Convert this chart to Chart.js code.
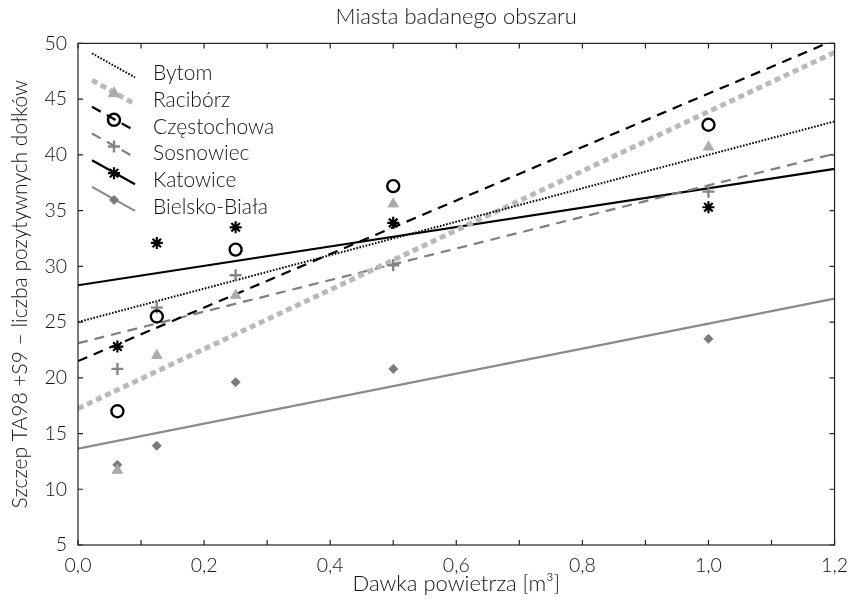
<!DOCTYPE html>
<html>
<head>
<meta charset="utf-8">
<script src="https://cdn.jsdelivr.net/npm/chart.js@4/dist/chart.umd.min.js"></script>
<style>
html,body{margin:0;padding:0;background:#fff;}
#wrap{width:857px;height:613px;}
</style>
</head>
<body>
<div id="wrap"><canvas id="c" width="857" height="613"></canvas></div>
<script>
// ---------- data ----------
const chartTitle = 'Miasta badanego obszaru';
const xTitle = 'Dawka powietrza [m³]';
const yTitle = 'Szczep TA98 +S9 – liczba pozytywnych dołków';

const cities = ['Bytom', 'Racibórz', 'Częstochowa', 'Sosnowiec', 'Katowice', 'Bielsko-Biała'];
const doses = [0.0625, 0.125, 0.25, 0.5, 1.0];

const bytom       = [];                                // line only
const raciborz    = [11.7, 22.0, 27.4, 35.6, 40.7];
const czestochowa = [17.0, 25.5, 31.5, 37.2, 42.7];
const sosnowiec   = [20.8, 26.3, 29.2, 30.1, 36.7];
const katowice    = [22.8, 32.1, 33.5, 33.9, 35.3];
const bielsko     = [12.2, 13.9, 19.6, 20.8, 23.5];
const seriesValues = [bytom, raciborz, czestochowa, sosnowiec, katowice, bielsko];

// trend lines: values at the two ends of the x range
const trendX     = [0, 1.2];
const trendStart = [25.0, 17.25, 21.5, 23.1, 28.3, 13.65];
const trendEnd   = [43.0, 49.2, 50.3, 40.1, 38.75, 27.1];

const xTicks = { min: 0, max: 1.2, step: 0.1 };
const yTicks = { min: 5, max: 50, step: 5 };

// ---------- styles ----------
const F = "Lato, 'Liberation Sans', Arial, sans-serif";
const W = '300';
const TXT = '#111';
const styles = [
  { line: '#000000', width: 2,   dash: [1.6, 1.6], marker: null },
  { line: '#b9b9b9', width: 5,   dash: [6, 4],     marker: 'triangle', mColor: '#ababab', mFill: '#ababab', r: 6,   bw: 1 },
  { line: '#000000', width: 2.2, dash: [10, 7],    marker: 'circle',   mColor: '#000000', mFill: 'rgba(0,0,0,0)', r: 6, bw: 2.4 },
  { line: '#7f7f7f', width: 2.2, dash: [10, 7],    marker: 'cross',    mColor: '#858585', mFill: '#858585', r: 6,   bw: 2.4 },
  { line: '#000000', width: 2.2, dash: [],         marker: 'star',     mColor: '#000000', mFill: '#000000', r: 6,   bw: 2.2 },
  { line: '#8a8a8a', width: 2.2, dash: [],         marker: 'rectRot',  mColor: '#7a7a7a', mFill: '#7a7a7a', r: 4.5, bw: 1 }
];

const datasets = [];
cities.forEach((c, i) => {
  const s = styles[i];
  datasets.push({
    type: 'line', label: c,
    data: trendX.map((xv, k) => ({ x: xv, y: k === 0 ? trendStart[i] : trendEnd[i] })),
    borderColor: s.line, borderWidth: s.width, borderDash: s.dash,
    borderCapStyle: 'butt', pointRadius: 0, fill: false, tension: 0, order: 2
  });
  if (s.marker && seriesValues[i].length) {
    datasets.push({
      type: 'scatter', label: c + ' (pkt)',
      data: doses.map((d, k) => ({ x: d, y: seriesValues[i][k] })),
      pointStyle: s.marker, pointRadius: s.r, pointBorderWidth: s.bw,
      pointBorderColor: s.mColor, pointBackgroundColor: s.mFill,
      borderColor: s.mColor, backgroundColor: s.mFill, showLine: false, order: 1
    });
  }
});

function drawMarker(ctx, style, x, y, r, stroke, fill, bw) {
  ctx.save();
  ctx.strokeStyle = stroke; ctx.fillStyle = fill; ctx.lineWidth = bw;
  ctx.setLineDash([]);
  ctx.beginPath();
  if (style === 'circle') {
    ctx.arc(x, y, r, 0, Math.PI * 2); ctx.stroke();
  } else if (style === 'triangle') {
    ctx.moveTo(x, y - r); ctx.lineTo(x + r * 0.95, y + r * 0.6); ctx.lineTo(x - r * 0.95, y + r * 0.6); ctx.closePath();
    ctx.fill(); ctx.stroke();
  } else if (style === 'cross') {
    ctx.moveTo(x - r, y); ctx.lineTo(x + r, y); ctx.moveTo(x, y - r); ctx.lineTo(x, y + r); ctx.stroke();
  } else if (style === 'star') {
    ctx.moveTo(x - r, y); ctx.lineTo(x + r, y); ctx.moveTo(x, y - r); ctx.lineTo(x, y + r);
    const d = r * Math.SQRT1_2;
    ctx.moveTo(x - d, y - d); ctx.lineTo(x + d, y + d); ctx.moveTo(x - d, y + d); ctx.lineTo(x + d, y - d);
    ctx.stroke();
  } else if (style === 'rectRot') {
    ctx.moveTo(x - r, y); ctx.lineTo(x, y - r); ctx.lineTo(x + r, y); ctx.lineTo(x, y + r); ctx.closePath();
    ctx.fill(); ctx.stroke();
  }
  ctx.restore();
}

const legendPlugin = {
  id: 'slantLegend',
  afterDatasetsDraw(chart) {
    const ctx = chart.ctx;
    const a = chart.chartArea;
    const x0 = a.left + 14, x1 = a.left + 57, xm = a.left + 36, xt = a.left + 75;
    const y0 = a.top + 30, dy = 26.7;
    cities.forEach((c, i) => {
      const s = styles[i];
      const yc = y0 + i * dy;
      ctx.save();
      ctx.strokeStyle = s.line; ctx.lineWidth = s.width; ctx.setLineDash(s.dash);
      ctx.lineCap = 'butt';
      ctx.beginPath(); ctx.moveTo(x0, yc - 20); ctx.lineTo(x1, yc + 4); ctx.stroke();
      ctx.restore();
      if (s.marker) drawMarker(ctx, s.marker, xm, yc - 7, s.r, s.mColor, s.mFill, s.bw);
      ctx.save();
      ctx.fillStyle = TXT; ctx.font = W + ' 21px ' + F; ctx.textBaseline = 'middle'; ctx.textAlign = 'left';
      ctx.fillText(c, xt, yc);
      ctx.restore();
    });
  }
};

const framePlugin = {
  id: 'frameTicks',
  afterDraw(chart) {
    const { ctx, chartArea: a, scales: { x, y } } = chart;
    ctx.save();
    ctx.strokeStyle = '#222'; ctx.lineWidth = 1.2; ctx.setLineDash([]);
    ctx.strokeRect(a.left, a.top, a.right - a.left, a.bottom - a.top);
    const L = 5;
    ctx.beginPath();
    x.ticks.forEach(t => {
      const px = x.getPixelForValue(t.value);
      ctx.moveTo(px, a.bottom); ctx.lineTo(px, a.bottom - L);
      ctx.moveTo(px, a.top); ctx.lineTo(px, a.top + L);
    });
    y.ticks.forEach(t => {
      const py = y.getPixelForValue(t.value);
      ctx.moveTo(a.left, py); ctx.lineTo(a.left + L, py);
      ctx.moveTo(a.right, py); ctx.lineTo(a.right - L, py);
    });
    ctx.stroke();
    ctx.restore();
  }
};

new Chart(document.getElementById('c'), {
  type: 'scatter',
  data: { datasets },
  plugins: [legendPlugin, framePlugin],
  options: {
    responsive: false,
    animation: false,
    devicePixelRatio: 1,
    layout: { padding: { left: 0, right: 17, top: 0, bottom: 0 } },
    plugins: {
      legend: { display: false },
      tooltip: { enabled: false },
      title: {
        display: true, text: chartTitle, fullSize: false, color: TXT,
        font: { family: F, size: 22, weight: W },
        padding: { top: 4, bottom: 13 }
      }
    },
    scales: {
      x: {
        type: 'linear', min: xTicks.min, max: xTicks.max,
        afterFit(s) { s.height = 68; },
        ticks: {
          stepSize: xTicks.step, autoSkip: false, maxRotation: 0, padding: 9, color: TXT,
          font: { family: F, size: 19.5, weight: W },
          callback: (v) => { const k = Math.round(v * 10); return k % 2 === 0 ? (k / 10).toFixed(1).replace('.', ',') : ''; }
        },
        grid: { display: false, drawTicks: false, tickLength: 0 },
        border: { display: false },
        title: { display: true, text: xTitle, color: TXT, font: { family: F, size: 22, weight: W }, padding: { top: 0, bottom: 16 } }
      },
      y: {
        type: 'linear', min: yTicks.min, max: yTicks.max,
        afterFit(s) { s.width = 78; },
        ticks: {
          stepSize: yTicks.step, autoSkip: false, padding: 11, color: TXT,
          font: { family: F, size: 19.5, weight: W },
          callback: (v) => String(v)
        },
        grid: { display: false, drawTicks: false, tickLength: 0 },
        border: { display: false },
        title: { display: true, text: yTitle, color: TXT, font: { family: F, size: 21, weight: W }, padding: { top: 8, bottom: 0 } }
      }
    }
  }
});
</script>
</body>
</html>
